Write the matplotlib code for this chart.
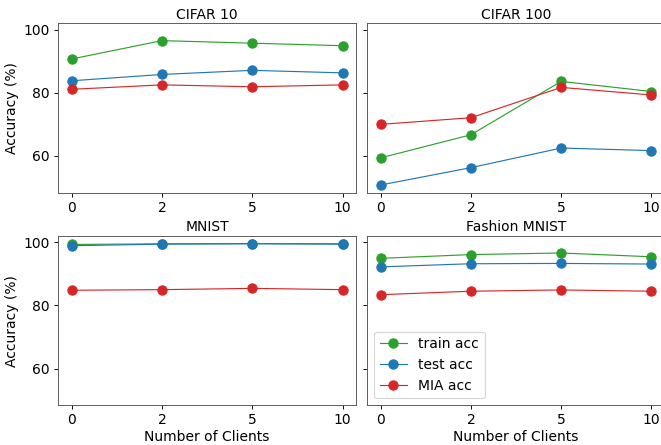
import matplotlib.pyplot as plt

# number of clients (plotted as categories, equal spacing)
clients = ['0', '2', '5', '10']

datasets = ['CIFAR 10', 'CIFAR 100', 'MNIST', 'Fashion MNIST']

# accuracies (%)
train_acc = [
    [90.7, 96.5, 95.7, 94.9],   # CIFAR 10
    [59.4, 66.7, 83.6, 80.4],   # CIFAR 100
    [99.3, 99.5, 99.6, 99.5],   # MNIST
    [94.9, 96.1, 96.6, 95.4],   # Fashion MNIST
]
test_acc = [
    [83.8, 85.8, 87.1, 86.3],
    [50.8, 56.3, 62.5, 61.7],
    [98.9, 99.4, 99.5, 99.4],
    [92.2, 93.2, 93.3, 93.1],
]
mia_acc = [
    [81.1, 82.5, 81.9, 82.5],
    [70.0, 72.1, 81.7, 79.3],
    [84.8, 85.0, 85.4, 85.0],
    [83.4, 84.5, 84.9, 84.5],
]

plt.rcParams['font.size'] = 12

# original looks like a 12pt figure shrunk down, so draw at a lower dpi
dpi = 83
fig, axes = plt.subplots(2, 2, figsize=(661 / dpi, 445 / dpi), dpi=dpi, sharey=True)
axes = axes.flatten()

for i, ax in enumerate(axes):
    ax.plot(clients, train_acc[i], 'o-', color='tab:green', lw=1, ms=8, label='train acc')
    ax.plot(clients, test_acc[i], 'o-', color='tab:blue', lw=1, ms=8, label='test acc')
    ax.plot(clients, mia_acc[i], 'o-', color='tab:red', lw=1, ms=8, label='MIA acc')
    ax.set_title(datasets[i], fontsize=12, pad=4)
    ax.set_yticks([60, 80, 100])
    for s in ax.spines.values():
        s.set_color('#555555')

axes[0].set_ylabel('Accuracy (%)')
axes[2].set_ylabel('Accuracy (%)')
axes[2].set_xlabel('Number of Clients', labelpad=2)
axes[3].set_xlabel('Number of Clients', labelpad=2)
axes[3].legend(loc='lower left', fontsize=12)

plt.subplots_adjust(left=0.088, right=1.006, top=0.948, bottom=0.089, wspace=0.037, hspace=0.254)
plt.savefig('out.png', dpi=dpi)
